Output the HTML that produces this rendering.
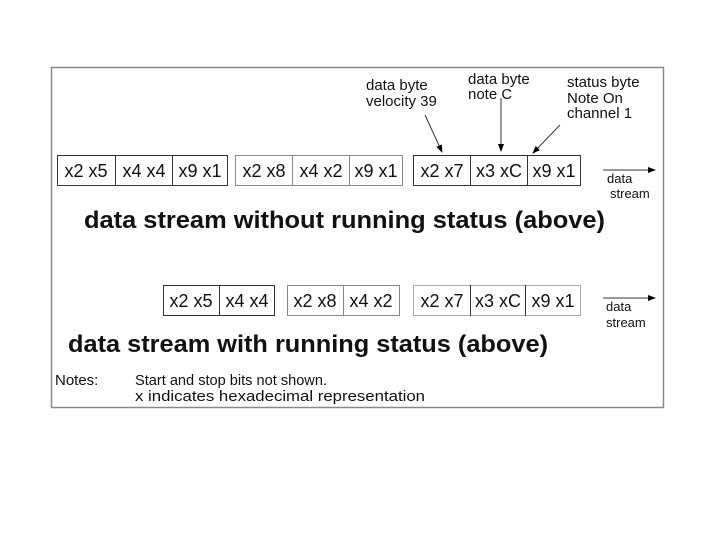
<!DOCTYPE html>
<html><head><style>body{margin:0;background:#fff}</style></head><body>
<svg width="720" height="540" xmlns="http://www.w3.org/2000/svg" font-family="Liberation Sans, sans-serif">
<rect x="51.5" y="67.5" width="612" height="340" fill="#fff" stroke="#888" stroke-width="1.5"/>
<defs><marker id="a" markerWidth="8" markerHeight="8" refX="7" refY="4" orient="auto"><path d="M0,1 L8,4 L0,7z" fill="#000"/></marker></defs>
<g stroke="#333" stroke-width="1" fill="none">
<rect x="57.5" y="155.5" width="170" height="30"/><line x1="115.5" y1="155" x2="115.5" y2="186"/><line x1="172.5" y1="155" x2="172.5" y2="186"/>
<rect x="235.5" y="155.5" width="167" height="30" stroke="#888"/><line x1="292.5" y1="155" x2="292.5" y2="186" stroke="#888"/><line x1="349.5" y1="155" x2="349.5" y2="186" stroke="#888"/>
<rect x="413.5" y="155.5" width="167" height="30"/><line x1="470.5" y1="155" x2="470.5" y2="186"/><line x1="527.5" y1="155" x2="527.5" y2="186"/>
<rect x="163.5" y="285.5" width="111" height="30"/><line x1="219.5" y1="285" x2="219.5" y2="316"/>
<rect x="287.5" y="285.5" width="112" height="30" stroke="#888"/><line x1="343.5" y1="285" x2="343.5" y2="316" stroke="#888"/>
<rect x="413.5" y="285.5" width="167" height="30" stroke="#aaa"/><line x1="470.5" y1="285" x2="470.5" y2="316"/><line x1="525.5" y1="285" x2="525.5" y2="316"/>
<line x1="603" y1="170" x2="655" y2="170" marker-end="url(#a)"/>
<line x1="603" y1="298" x2="655" y2="298" marker-end="url(#a)"/>
<line x1="425" y1="115" x2="442" y2="152" marker-end="url(#a)"/>
<line x1="501" y1="98" x2="501" y2="151" marker-end="url(#a)"/>
<line x1="560" y1="125" x2="533" y2="153" marker-end="url(#a)"/>
</g>
<g font-size="18" fill="#111" text-anchor="middle">
<text x="86" y="177">x2 x5</text><text x="144" y="177">x4 x4</text><text x="200" y="177">x9 x1</text>
<text x="264" y="177">x2 x8</text><text x="321" y="177">x4 x2</text><text x="376" y="177">x9 x1</text>
<text x="442" y="177">x2 x7</text><text x="499" y="177">x3 xC</text><text x="554" y="177">x9 x1</text>
<text x="191" y="307">x2 x5</text><text x="247" y="307">x4 x4</text>
<text x="315" y="307">x2 x8</text><text x="371" y="307">x4 x2</text>
<text x="442" y="307">x2 x7</text><text x="498" y="307">x3 xC</text><text x="553" y="307">x9 x1</text>
</g>
<g font-size="15" fill="#111">
<text x="366" y="90">data byte</text><text x="366" y="106">velocity 39</text>
<text x="468" y="84">data byte</text><text x="468" y="99">note C</text>
<text x="567" y="87">status byte</text><text x="567" y="103">Note On</text><text x="567" y="118">channel 1</text>
</g>
<g font-size="13" fill="#111">
<text x="607" y="183">data</text><text x="610" y="198">stream</text>
<text x="606" y="311">data</text><text x="606" y="327">stream</text>
</g>
<text x="84" y="228" font-size="24" font-weight="bold" fill="#111" textLength="521" lengthAdjust="spacingAndGlyphs">data stream without running status (above)</text>
<text x="68" y="352" font-size="24" font-weight="bold" fill="#111" textLength="480" lengthAdjust="spacingAndGlyphs">data stream with running status (above)</text>
<g font-size="15" fill="#111">
<text x="55" y="385">Notes:</text>
<text x="135" y="385" textLength="192" lengthAdjust="spacingAndGlyphs">Start and stop bits not shown.</text>
<text x="135" y="401" textLength="290" lengthAdjust="spacingAndGlyphs">x indicates hexadecimal representation</text>
</g>
</svg>
</body></html>
